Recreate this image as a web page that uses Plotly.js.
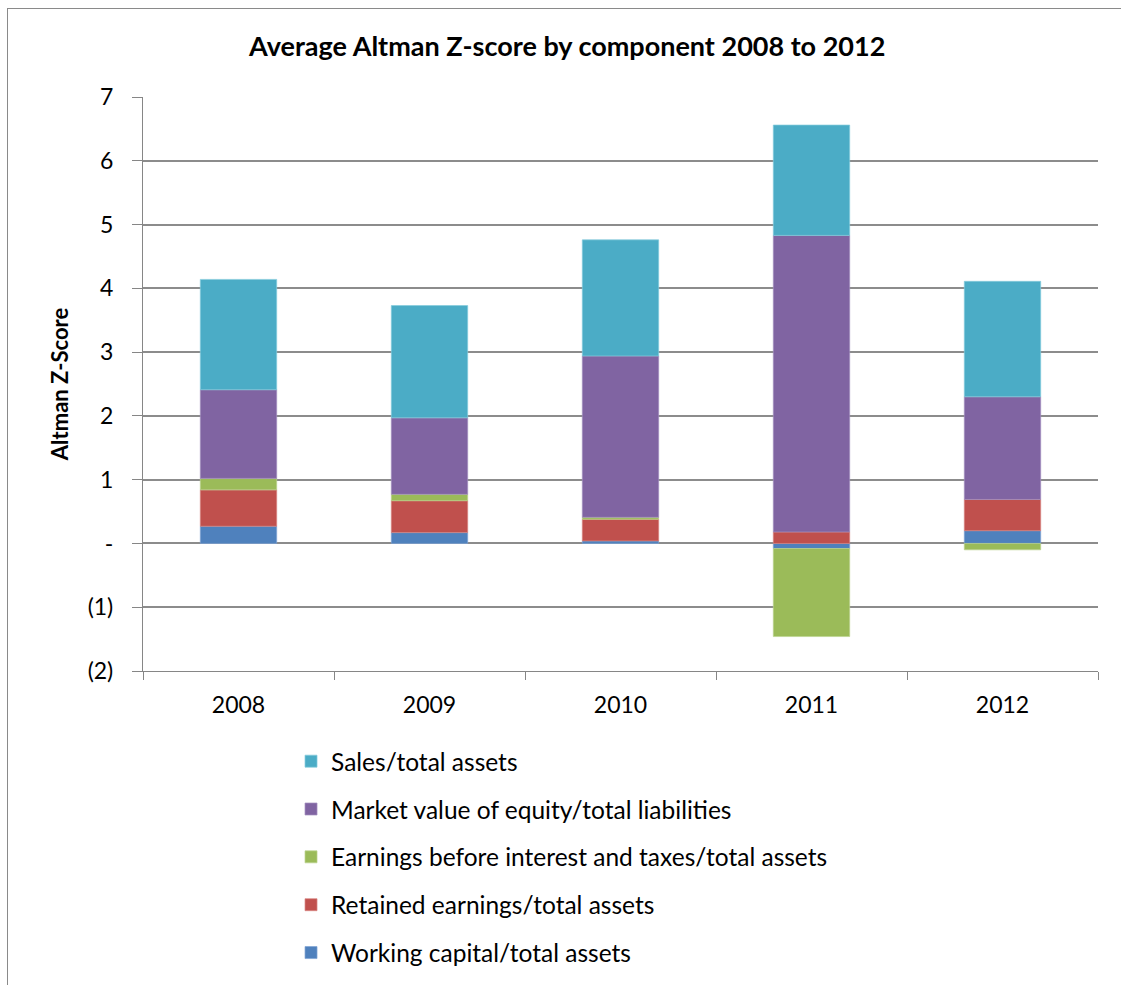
<!DOCTYPE html>
<html>
<head>
<meta charset="utf-8">
<script src="https://cdn.plot.ly/plotly-3.0.1.min.js"></script>
<style>
html,body{margin:0;padding:0;background:#fff;}
#wrap{position:relative;width:1121px;height:985px;}
#chart{position:absolute;left:0;top:0;width:1121px;height:985px;}
#frame{position:absolute;left:7px;top:8px;width:1200px;height:1200px;border-left:1px solid #8a8a8a;border-top:1px solid #8a8a8a;pointer-events:none;}
</style>
</head>
<body>
<div id="wrap"><div id="chart"></div><div id="frame"></div></div>
<script>
const years = ['2008', '2009', '2010', '2011', '2012'];
const workingCapital = [0.27, 0.17, 0.04, -0.08, 0.20];
const retainedEarnings = [0.57, 0.50, 0.34, 0.18, 0.49];
const ebit = [0.18, 0.10, 0.03, -1.38, -0.10];
const marketValueEquity = [1.39, 1.20, 2.53, 4.65, 1.61];
const salesTotalAssets = [1.73, 1.76, 1.82, 1.73, 1.81];
const yTickVals = [-2, -1, 0, 1, 2, 3, 4, 5, 6, 7];
const yTickText = ['(2)', '(1)', '-', '1', '2', '3', '4', '5', '6', '7'];

const names = [
  'Working capital/total assets',
  'Retained earnings/total assets',
  'Earnings before interest and taxes/total assets',
  'Market value of equity/total liabilities',
  'Sales/total assets'
];
const series = [workingCapital, retainedEarnings, ebit, marketValueEquity, salesTotalAssets];
const colors = ['#4F81BD', '#C0504D', '#9BBB59', '#8064A2', '#4BACC6'];
const edge = ['#7fa3d4', '#d98583', '#bcd38e', '#a38fbf', '#84cbdc'];

const FONT = 'Lato, "Open Sans", sans-serif';

const traces = series.map((v, i) => ({
  type: 'bar',
  x: years,
  y: v,
  name: names[i],
  legendgroup: 'g' + i,
  legendrank: 10 - i,
  marker: {color: colors[i], line: {color: edge[i], width: 0.7}},
  hoverinfo: 'x+y+name'
}));

const layout = {
  width: 1121,
  height: 985,
  paper_bgcolor: '#ffffff',
  plot_bgcolor: '#ffffff',
  barmode: 'relative',
  bargap: 0.6,
  margin: {l: 143, r: 23, t: 97, b: 314, autoexpand: false},
  font: {family: FONT, color: '#000000', size: 23},
  title: {
    text: '<b>Average Altman Z-score by component 2008 to 2012</b>',
    font: {family: FONT, size: 27, color: '#000000'},
    x: 0.506, xanchor: 'center', xref: 'container',
    y: 0.953, yanchor: 'middle', yref: 'container'
  },
  xaxis: {
    type: 'category',
    tickson: 'boundaries',
    ticks: 'outside',
    ticklen: 8,
    tickcolor: '#868686',
    tickwidth: 1.3,
    showline: true,
    linecolor: '#868686',
    linewidth: 1.3,
    showgrid: false,
    ticklabelstandoff: 13,
    tickfont: {family: FONT, size: 23, color: '#000000'},
    fixedrange: true
  },
  yaxis: {
    range: [-2, 7],
    tickvals: yTickVals,
    ticktext: yTickText,
    ticks: 'outside',
    ticklen: 10,
    tickcolor: '#868686',
    tickwidth: 1.3,
    showline: true,
    linecolor: '#868686',
    linewidth: 1.3,
    showgrid: true,
    gridcolor: '#8c8c8c',
    gridwidth: 1.5,
    zeroline: false,
    ticklabelstandoff: 14,
    tickfont: {family: FONT, size: 23, color: '#000000'},
    title: {text: '<b>Altman Z-Score</b>', font: {family: FONT, size: 22, color: '#000000'}, standoff: 12},
    fixedrange: true
  },
  showlegend: true,
  legend: {
    orientation: 'v',
    traceorder: 'grouped',
    tracegroupgap: 13,
    xref: 'paper', yref: 'paper',
    x: 0.155, xanchor: 'left',
    y: -0.118, yanchor: 'top',
    font: {family: FONT, size: 24.5, color: '#000000'},
    itemwidth: 30,
    bgcolor: 'rgba(0,0,0,0)'
  }
};

Plotly.newPlot('chart', traces, layout, {displayModeBar: false});
</script>
</body>
</html>
